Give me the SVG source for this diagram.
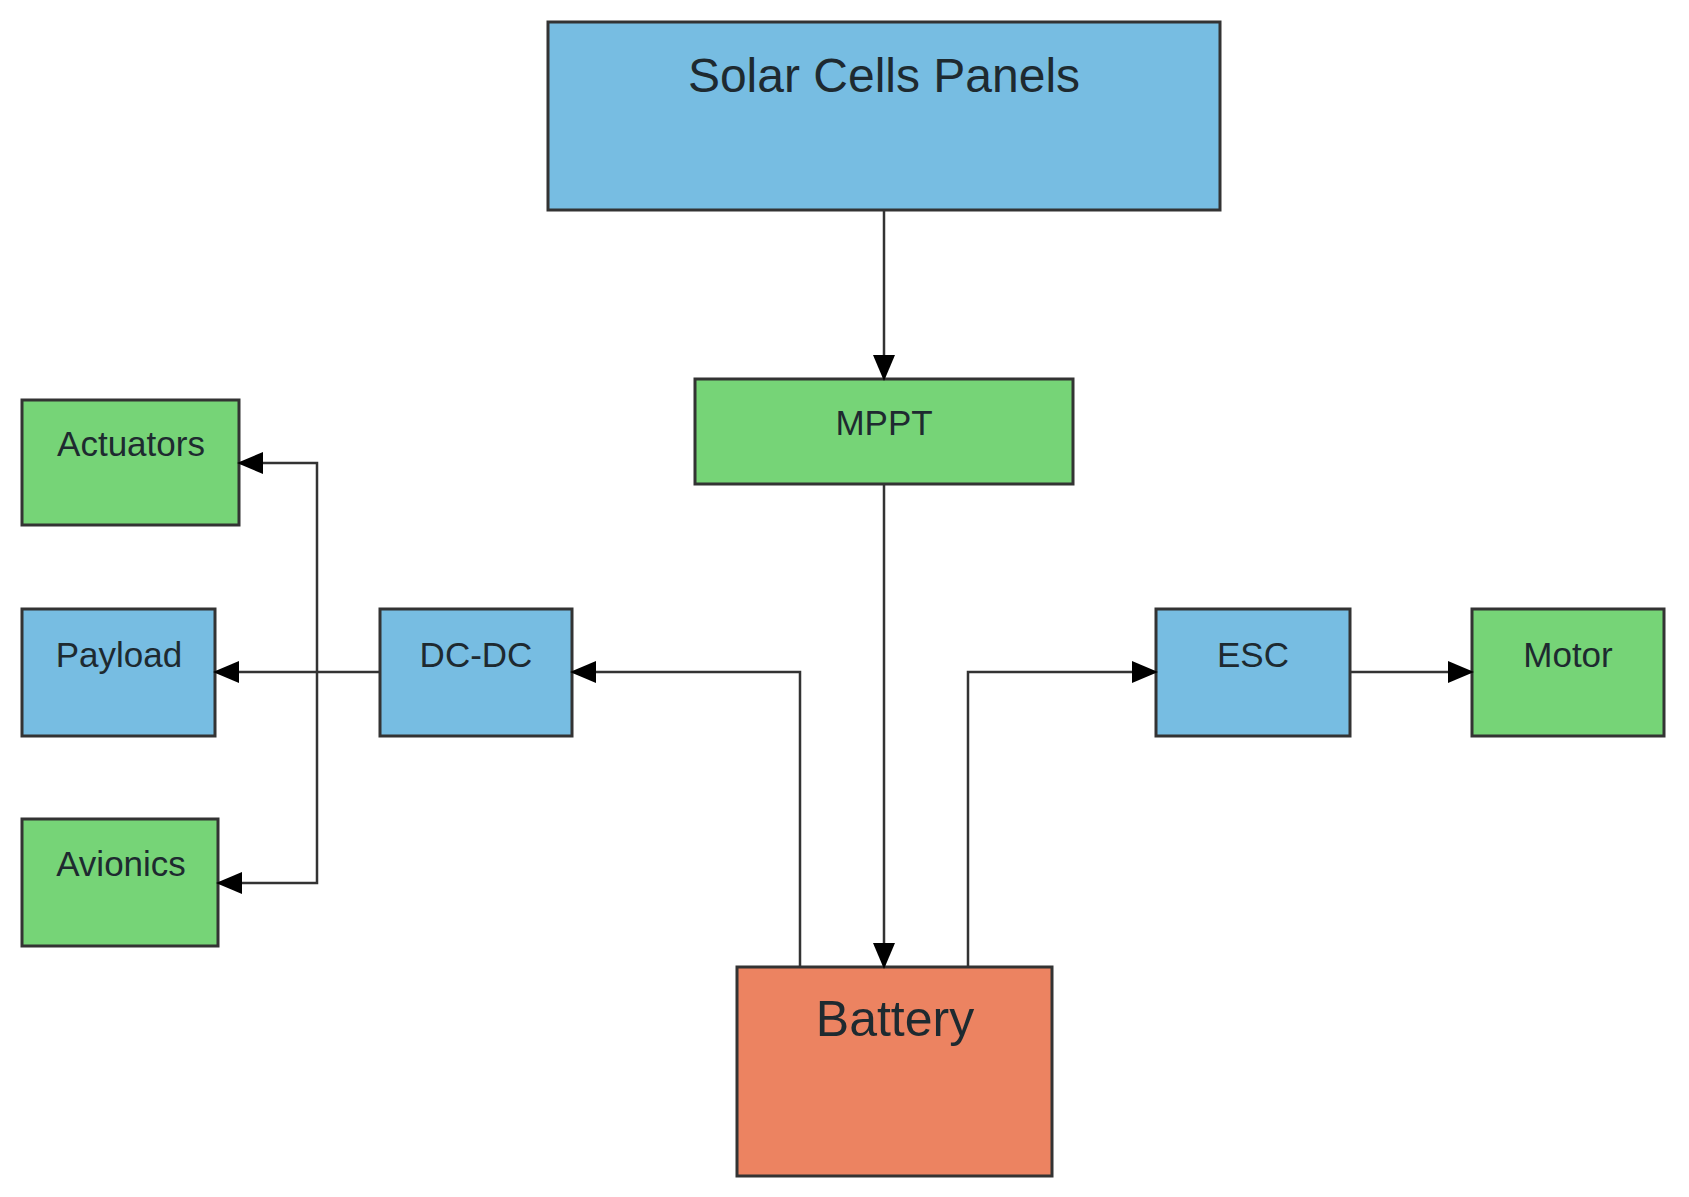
<svg xmlns="http://www.w3.org/2000/svg" width="1689" height="1197" viewBox="0 0 1689 1197">
<defs>
<marker id="arr" markerUnits="userSpaceOnUse" markerWidth="26" markerHeight="22" refX="24" refY="11" orient="auto"><path d="M0,0 L26,11 L0,22 Z" fill="#000"/></marker>
<style>
.n{stroke:#333;stroke-width:3}
.b{fill:#77BDE2}.g{fill:#76D477}.o{fill:#EC8361}
text{font-family:"Liberation Sans",Arial,sans-serif;fill:#1e2a30;text-anchor:middle}
.c{fill:none;stroke:#333;stroke-width:2.5}
</style>
</defs>
<rect width="1689" height="1197" fill="#fff"/>
<g id="solar"><rect class="n b" x="548" y="22" width="672" height="188"/><text x="884" y="92" font-size="48">Solar Cells Panels</text></g>
<g id="mppt"><rect class="n g" x="695" y="379" width="378" height="105"/><text x="884" y="435" font-size="35">MPPT</text></g>
<g id="actuators"><rect class="n g" x="22" y="400" width="217" height="125"/><text x="131" y="456" font-size="35">Actuators</text></g>
<g id="payload"><rect class="n b" x="22" y="609" width="193" height="127"/><text x="119" y="667" font-size="35">Payload</text></g>
<g id="avionics"><rect class="n g" x="22" y="819" width="196" height="127"/><text x="121" y="876" font-size="35">Avionics</text></g>
<g id="dcdc"><rect class="n b" x="380" y="609" width="192" height="127"/><text x="476" y="667" font-size="35">DC-DC</text></g>
<g id="esc"><rect class="n b" x="1156" y="609" width="194" height="127"/><text x="1253" y="667" font-size="35">ESC</text></g>
<g id="motor"><rect class="n g" x="1472" y="609" width="192" height="127"/><text x="1568" y="667" font-size="35">Motor</text></g>
<g id="battery"><rect class="n o" x="737" y="967" width="315" height="209"/><text x="895" y="1036" font-size="50">Battery</text></g>
<g id="connectors">
<path class="c" d="M884,210 V379" marker-end="url(#arr)"/>
<path class="c" d="M884,484 V967" marker-end="url(#arr)"/>
<path class="c" d="M800,967 V672 H572" marker-end="url(#arr)"/>
<path class="c" d="M968,967 V672 H1156" marker-end="url(#arr)"/>
<path class="c" d="M1350,672 H1472" marker-end="url(#arr)"/>
<path class="c" d="M380,672 H215" marker-end="url(#arr)"/>
<path class="c" d="M317,672 V463 H239" marker-end="url(#arr)"/>
<path class="c" d="M317,672 V883 H218" marker-end="url(#arr)"/>
</g>
</svg>
